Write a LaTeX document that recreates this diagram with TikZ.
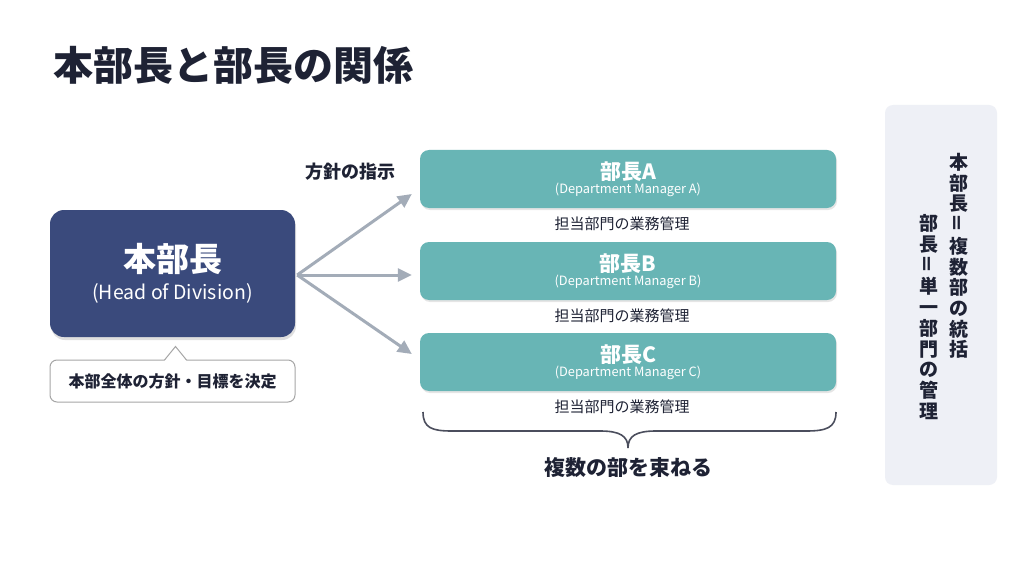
\documentclass[tikz,border=0pt]{standalone}
\usepackage{fontspec}
\usepackage{graphicx}
\setmainfont{Noto Sans CJK JP}
\usetikzlibrary{arrows.meta,shadows,positioning}

\definecolor{navy}{HTML}{3A4A7C}
\definecolor{teal}{HTML}{68B5B5}
\definecolor{arrowgray}{HTML}{A3ACB8}
\definecolor{ink}{HTML}{1E2234}
\definecolor{panelbg}{HTML}{EEF0F6}

\begin{document}
\begin{tikzpicture}[x=1pt,y=-1pt,
  headbox/.style={rectangle,rounded corners=14pt,fill=navy,text=white,
    minimum width=245pt,minimum height=127pt,align=center,
    font=\fontsize{19.5}{28}\selectfont,
    drop shadow={shadow xshift=1pt,shadow yshift=-3pt,opacity=0.25}},
  mgrbox/.style={rectangle,rounded corners=9pt,fill=teal,text=white,
    minimum width=416pt,minimum height=58pt,align=center,
    font=\fontsize{12.8}{14.5}\selectfont,
    drop shadow={shadow xshift=1pt,shadow yshift=-2pt,opacity=0.2}},
  dutylabel/.style={text=ink,font=\fontsize{15}{18}\selectfont},
  arr/.style={draw=arrowgray,line width=3pt,-{Triangle[length=14pt,width=13pt]}},
  vcol/.style={text=ink,align=center,font=\bfseries\fontsize{19}{20.7}\selectfont}]

% Define the page
\useasboundingbox (0,0) rectangle (1024,572);
\fill[white] (0,0) rectangle (1024,572);

% Title
\node[anchor=west,text=ink,font=\bfseries\fontsize{40}{44}\selectfont] (title) at (50,65) {本部長と部長の関係};

% Head of division and its note
\node[headbox] (head) at (172.5,273.5) {{\bfseries\fontsize{33}{28}\selectfont 本部長}\\(Head of Division)};
\node[rectangle,rounded corners=7pt,draw=gray!70,line width=1pt,fill=white,
  minimum width=245pt,minimum height=42pt,text=ink,
  font=\bfseries\fontsize{16}{19}\selectfont] (note) at (172.5,381) {本部全体の方針・目標を決定};
\path (note.north) ++(3,-13) coordinate (tip);
\fill[white] ([xshift=-8pt,yshift=-1.5pt]note.north) -- (tip) -- ([xshift=14pt,yshift=-1.5pt]note.north) -- cycle;
\draw[gray!70,line width=1pt] ([xshift=-8pt,yshift=-0.5pt]note.north) -- (tip) -- ([xshift=14pt,yshift=-0.5pt]note.north);

% Department managers
\node[mgrbox] (mA) at (628,179) {{\bfseries\fontsize{21}{14.5}\selectfont 部長A}\\(Department Manager A)};
\node[mgrbox] (mB) at (628,271) {{\bfseries\fontsize{21}{14.5}\selectfont 部長B}\\(Department Manager B)};
\node[mgrbox] (mC) at (628,362) {{\bfseries\fontsize{21}{14.5}\selectfont 部長C}\\(Department Manager C)};

\node[dutylabel] (dA) at (622,224) {担当部門の業務管理};
\node[dutylabel] (dB) at (622,316) {担当部門の業務管理};
\node[dutylabel] (dC) at (622,407) {担当部門の業務管理};

% Instruction arrows
\coordinate (src) at ([xshift=2pt,yshift=-1.5pt]head.east);
\draw[arr] (src) -- ([xshift=-8pt,yshift=-15pt]mA.west);
\draw[arr] (src) -- ([xshift=-8pt,yshift=-4pt]mB.west);
\draw[arr] (src) -- ([xshift=-8pt,yshift=8pt]mC.west);
\node[text=ink,font=\bfseries\fontsize{18}{20}\selectfont] (instr) at (350,172) {方針の指示};

% Brace under the managers
\coordinate (bl) at (423,412);
\coordinate (br) at (836,412);
\coordinate (bt) at (628,448);
\draw[ink!80,line width=1.6pt]
  (bl) .. controls (423,428) and (432,431) .. (452,431) -- (600,431)
  .. controls (620,431) and (628,436) .. (bt)
  .. controls (628,436) and (636,431) .. (656,431) -- (806,431)
  .. controls (826,431) and (836,428) .. (br);
\node[text=ink,font=\bfseries\fontsize{21}{24}\selectfont] (bundle) at (628,468) {複数の部を束ねる};

% Summary panel
\node[rectangle,rounded corners=8pt,fill=panelbg,minimum width=112pt,minimum height=380pt] (panel) at (941,295) {};
\node[vcol] (sumA) at (959,256) {本\\部\\長\\\rotatebox{90}{＝}\\複\\数\\部\\の\\統\\括};
\node[vcol] (sumB) at (929,317) {部\\長\\\rotatebox{90}{＝}\\単\\一\\部\\門\\の\\管\\理};
\end{tikzpicture}
\end{document}
